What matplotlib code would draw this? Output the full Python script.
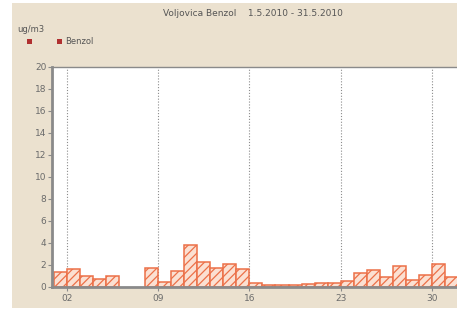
import matplotlib
matplotlib.use("Agg")
import matplotlib.pyplot as plt
from matplotlib.patches import Rectangle

# dnevne vrijednosti benzola, maj 2010 (None = nema podataka)
days = list(range(1, 32))
benzol = [1.4, 1.6, 1.0, 0.7, 1.0, None, None, 1.75, 0.5, 1.5,
          3.8, 2.3, 1.7, 2.1, 1.6, 0.35, 0.15, 0.15, 0.2, 0.25,
          0.35, 0.35, 0.55, 1.25, 1.55, 0.9, 1.95, 0.65, 1.1, 2.07, 0.9]
week_ticks = [2, 9, 16, 23, 30]
week_labels = ["02", "09", "16", "23", "30"]
y_ticks = list(range(0, 21, 2))

BG = "#ebe1cf"
GRAY = "#8a8a8a"
TXT = "#6b6b6b"

plt.rcParams["hatch.color"] = "#f09070"
plt.rcParams["hatch.linewidth"] = 0.9

fig = plt.figure(figsize=(4.57, 3.11), dpi=100, facecolor="white")
fig.patches.append(Rectangle((12 / 457, 3 / 311), 1, (305 / 311), transform=fig.transFigure,
                             facecolor=BG, edgecolor="none", zorder=-10))

ax = fig.add_axes([52 / 457, 24 / 311, 1 - 52 / 457 + 0.002, 220 / 311])
ax.set_facecolor("white")

xs = [d for d, v in zip(days, benzol) if v is not None]
vs = [v for v in benzol if v is not None]
ax.bar(xs, vs, width=1.0, align="edge", facecolor="#fbe0d2", edgecolor="#ec7048",
       linewidth=1.1, hatch="////", zorder=2)

for d in week_ticks:
    ax.axvline(d, color="#8c8c8c", linestyle=(0, (1, 1.6)), linewidth=0.8, zorder=1)

ax.set_xlim(0.85, 32.0)
ax.set_ylim(0, 20)
ax.set_xticks(week_ticks)
ax.set_xticklabels(week_labels)
ax.set_yticks(y_ticks)
ax.tick_params(axis="both", colors=GRAY, labelcolor=TXT, labelsize=6.5, length=3, width=0.8)
ax.tick_params(axis="x", pad=2)
ax.tick_params(axis="y", pad=1)

for side in ["left", "bottom"]:
    ax.spines[side].set_color(GRAY)
    ax.spines[side].set_linewidth(2.0)
ax.spines["top"].set_color(GRAY)
ax.spines["top"].set_linewidth(1.0)
ax.spines["right"].set_visible(False)

fig.text(253 / 457, 1 - 13 / 311, "Voljovica Benzol    1.5.2010 - 31.5.2010",
         ha="center", va="center", fontsize=6.5, color="#555555")
fig.text(17 / 457, 1 - 30 / 311, "ug/m3", ha="left", va="center", fontsize=6, color="#555555")
fig.patches.append(Rectangle((27 / 457, 1 - 44 / 311), 5 / 457, 5 / 311, transform=fig.transFigure,
                             facecolor="#b03030", edgecolor="none"))
fig.patches.append(Rectangle((57 / 457, 1 - 44 / 311), 5 / 457, 5 / 311, transform=fig.transFigure,
                             facecolor="#b03030", edgecolor="none"))
fig.text(65 / 457, 1 - 41.5 / 311, "Benzol", ha="left", va="center", fontsize=6, color="#555555")

fig.savefig("out.png", dpi=100, facecolor=fig.get_facecolor())
